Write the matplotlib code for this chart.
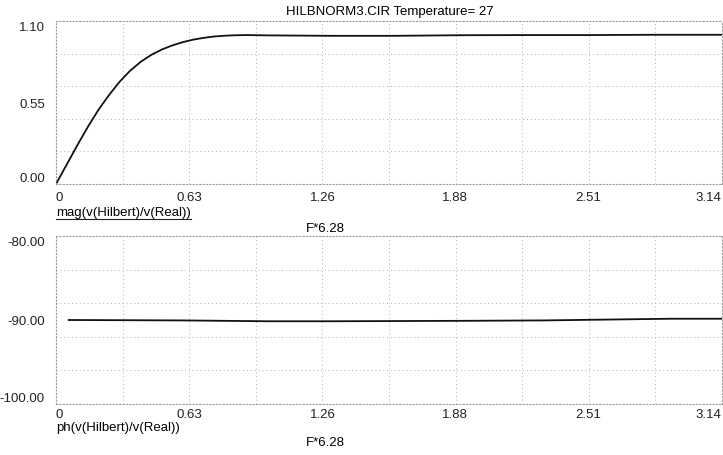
import numpy as np
import matplotlib.pyplot as plt

plt.rcParams['font.family'] = ['Liberation Sans', 'DejaVu Sans']

# magnitude of v(Hilbert)/v(Real) against F*6.28
mag_x = [0.0, 0.05, 0.1, 0.15, 0.2, 0.25, 0.3, 0.35, 0.4, 0.45, 0.5, 0.55,
         0.6, 0.65, 0.7, 0.75, 0.8, 0.85, 0.9, 1.0, 1.3, 1.6, 1.9, 2.2, 2.5, 2.8, 3.14]
mag_y = [0.0, 0.13, 0.26, 0.385, 0.50, 0.60, 0.69, 0.765, 0.825, 0.872, 0.908, 0.936,
         0.958, 0.975, 0.987, 0.996, 1.001, 1.004, 1.005, 1.003, 1.0, 1.0, 1.004,
         1.005, 1.005, 1.007, 1.007]

# phase of v(Hilbert)/v(Real)
ph_x = [0.06, 0.6, 1.0, 1.3, 1.9, 2.3, 2.6, 2.9, 3.14]
ph_y = [-90.0, -90.05, -90.15, -90.15, -90.1, -90.05, -89.95, -89.85, -89.85]

xticks = [0, 0.63, 1.26, 1.88, 2.51, 3.14]
xlabels = ['0', '0.63', '1.26', '1.88', '2.51', '3.14']

W, H = 723, 456
fig = plt.figure(figsize=(W / 100, H / 100), dpi=100)


def make_axes(left, top, right, bottom):
    return fig.add_axes([left / W, 1 - bottom / H, (right - left) / W, (bottom - top) / H])


def style(ax, ylo, yhi, ylabels, xpad):
    ax.set_xlim(0, np.pi)
    ax.set_ylim(ylo, yhi)
    for s in ax.spines.values():
        s.set_linestyle((0, (1, 2)))
        s.set_color('#9a9a9a')
        s.set_linewidth(0.8)
    for v in np.linspace(0, np.pi, 11)[1:-1]:
        ax.axvline(v, color='#b0b0b0', lw=0.7, ls=(0, (1, 3)), zorder=0)
    for v in np.linspace(ylo, yhi, 6)[1:-1]:
        ax.axhline(v, color='#b0b0b0', lw=0.7, ls=(0, (1, 3)), zorder=0)
    ax.tick_params(axis='x', length=0, labelsize=9.5, colors='#222222', pad=xpad)
    ax.tick_params(axis='y', length=0, labelsize=9.5, colors='#222222', pad=8)
    ax.set_xticks(xticks)
    ax.set_xticklabels(xlabels)
    xl = ax.get_xticklabels()
    xl[0].set_ha('left')
    xl[-1].set_ha('right')
    ax.set_yticks([ylo, (ylo + yhi) / 2, yhi])
    ax.set_yticklabels(ylabels)
    yl = ax.get_yticklabels()
    yl[0].set_va('bottom')
    yl[-1].set_va('top')


ax1 = make_axes(56, 22, 722, 185)
ax1.plot(mag_x, mag_y, color='#111111', lw=1.3)
style(ax1, 0.0, 1.10, ['0.00', '0.55', '1.10'], 5)

ax2 = make_axes(56, 237, 722, 405)
ax2.plot(ph_x, ph_y, color='#111111', lw=1.3)
style(ax2, -100.0, -80.0, ['-100.00', '-90.00', '-80.00'], 3)

fig.text(390 / W, 1 - 12 / H, 'HILBNORM3.CIR Temperature= 27', ha='center', va='center', fontsize=9.5)
fig.text(56 / W, 1 - 213 / H, 'mag(v(Hilbert)/v(Real))', ha='left', va='center', fontsize=9.5)
fig.add_artist(plt.Line2D([56 / W, 191 / W], [1 - 220 / H, 1 - 220 / H], color='#222222', lw=0.8))
fig.text(325 / W, 1 - 229 / H, 'F*6.28', ha='center', va='center', fontsize=9.5)
fig.text(56 / W, 1 - 428 / H, 'ph(v(Hilbert)/v(Real))', ha='left', va='center', fontsize=9.5)
fig.text(325 / W, 1 - 443 / H, 'F*6.28', ha='center', va='center', fontsize=9.5)

fig.savefig('out.png', dpi=100)
